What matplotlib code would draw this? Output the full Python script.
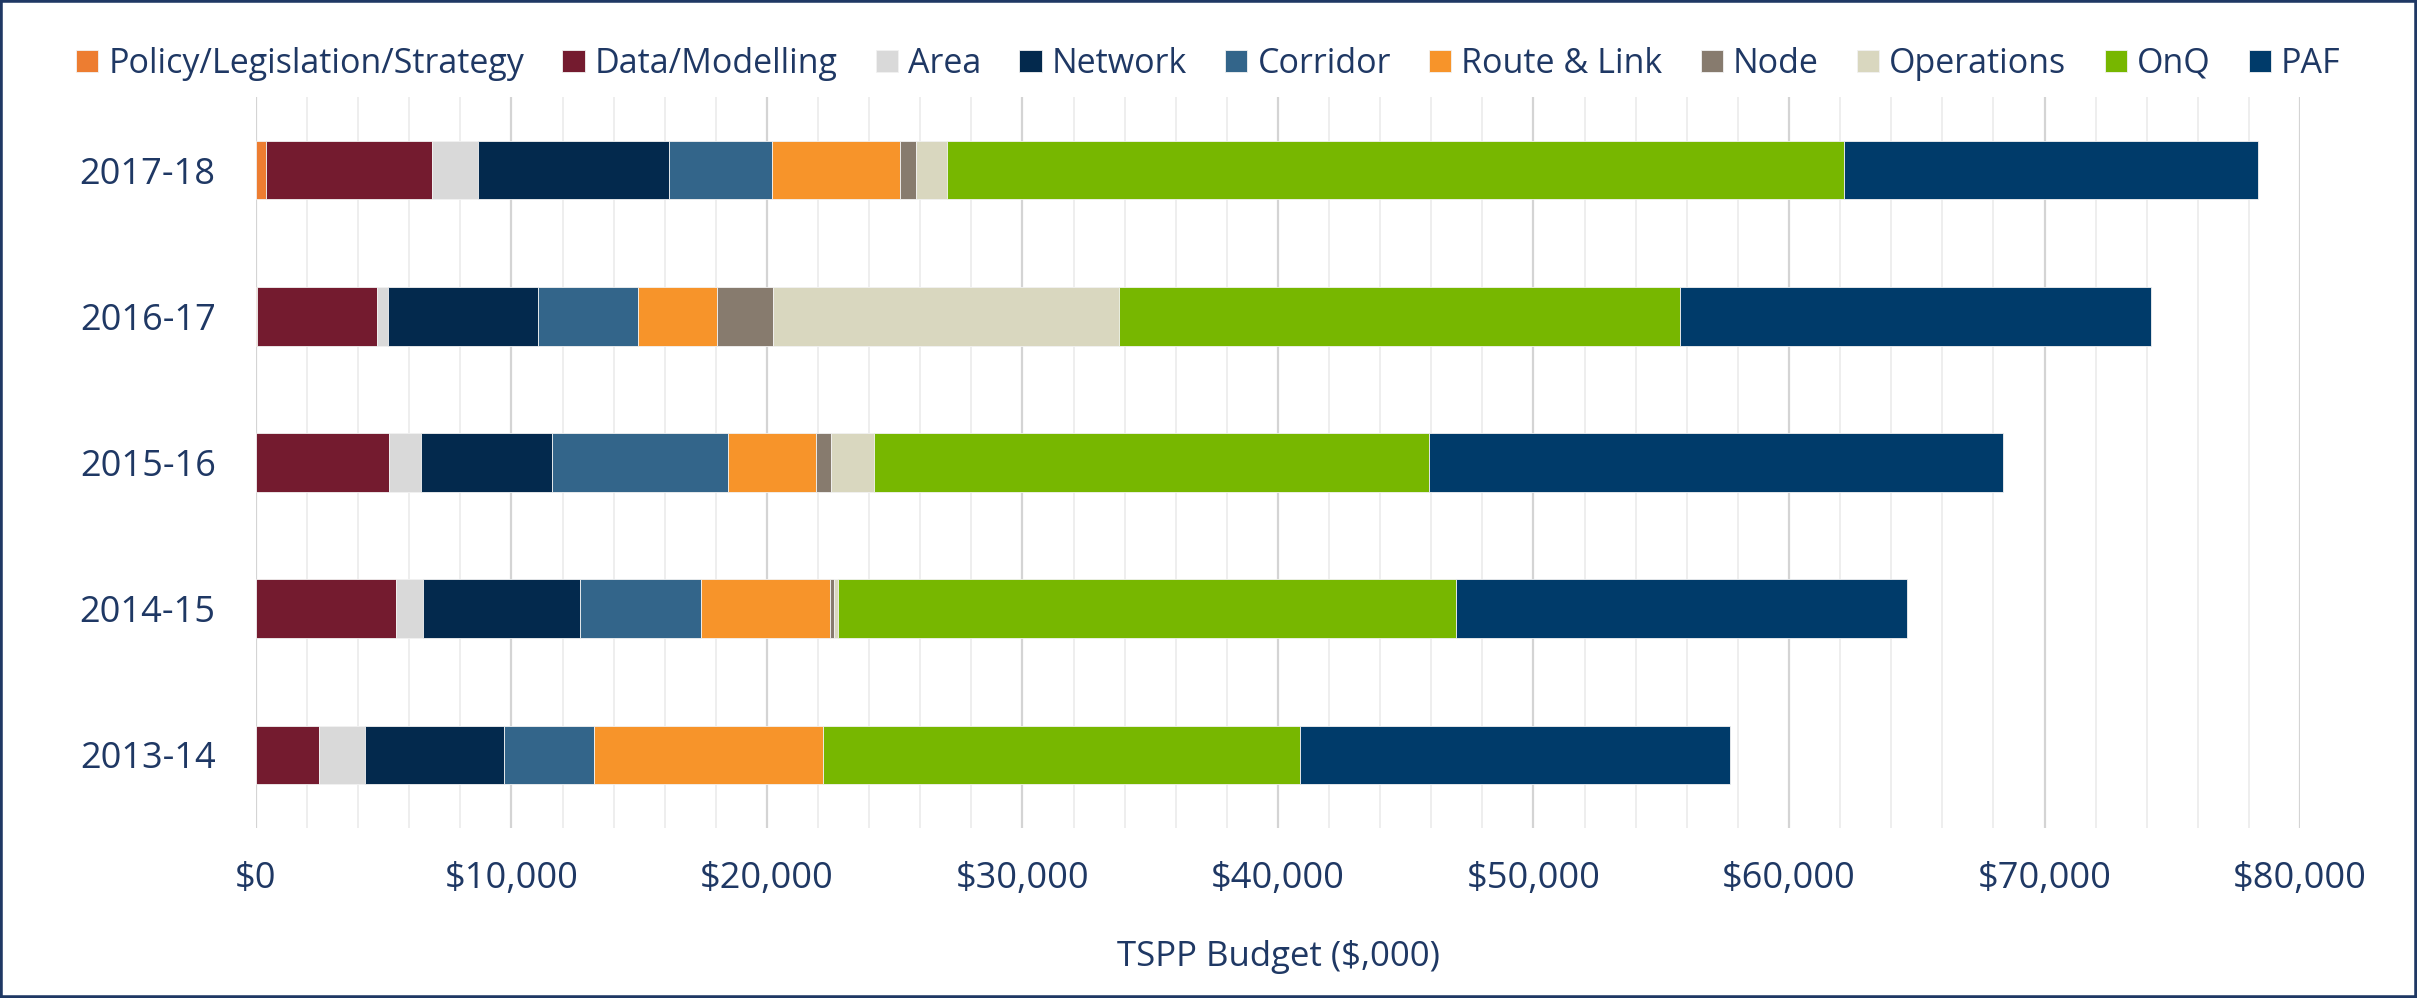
import matplotlib.pyplot as plt
from matplotlib.patches import Rectangle
from matplotlib.ticker import MultipleLocator, FuncFormatter
import numpy as np

# Data ($,000) -------------------------------------------------------
years = ['2013-14', '2014-15', '2015-16', '2016-17', '2017-18']

policy     = [0,     0,     0,     50,    400]
data_mod   = [2450,  5470,  5190,  4680,  6500]
area       = [1810,  1070,  1270,  430,   1800]
network    = [5440,  6150,  5130,  5880,  7450]
corridor   = [3540,  4730,  6900,  3910,  4050]
route_link = [8960,  5030,  3430,  3100,  5000]
node       = [0,     160,   580,   2170,  650]
operations = [0,     170,   1700,  13560, 1200]
onq        = [18650, 24200, 21720, 21970, 35100]
paf        = [16830, 17640, 22460, 18410, 16200]

categories = ['Policy/Legislation/Strategy', 'Data/Modelling', 'Area', 'Network',
              'Corridor', 'Route & Link', 'Node', 'Operations', 'OnQ', 'PAF']
series = [policy, data_mod, area, network, corridor, route_link, node,
          operations, onq, paf]
colors = ['#ED7D31', '#741B2F', '#D9D9D9', '#03294D', '#33658A', '#F7942A',
          '#877B6E', '#D9D7BF', '#77B700', '#003B6A']

text_col = '#1F3864'
plt.rcParams['font.family'] = ['Open Sans', 'DejaVu Sans']

fig = plt.figure(figsize=(24.17, 9.98), dpi=100)
ax = fig.add_axes([0.1059, 0.1703, 0.9516 - 0.1059, 0.9028 - 0.1703])

y = np.arange(len(years))
left = np.zeros(len(years))
handles = []
for name, vals, c in zip(categories, series, colors):
    vals = np.array(vals, dtype=float)
    b = ax.barh(y, vals, left=left, height=0.4, color=c, label=name,
                edgecolor='#F2F2F2', linewidth=0.6, zorder=3)
    handles.append(b)
    left += vals

ax.set_xlim(0, 80000)
ax.set_ylim(-0.5, 4.5)
ax.set_yticks(y)
ax.set_yticklabels(years)
ax.xaxis.set_major_locator(MultipleLocator(10000))
ax.xaxis.set_minor_locator(MultipleLocator(2000))
ax.xaxis.set_major_formatter(FuncFormatter(lambda v, p: f'${v:,.0f}'))
ax.grid(which='major', axis='x', color='#D4D4D4', linewidth=1.6, zorder=0)
ax.grid(which='minor', axis='x', color='#EEEEEE', linewidth=1.4, zorder=0)
for s in ax.spines.values():
    s.set_visible(False)
ax.tick_params(axis='y', length=0, pad=29, labelsize=26, labelcolor=text_col)
ax.tick_params(axis='x', which='both', length=0, pad=24, labelsize=26,
               labelcolor=text_col)
ax.set_xlabel('TSPP Budget ($,000)', fontsize=25, color=text_col, labelpad=31)

fig.legend(handles=handles, labels=categories, loc='center',
           bbox_to_anchor=(0.5, 0.936), ncol=10, frameon=False, fontsize=24.5,
           handlelength=0.65, handleheight=0.65, handletextpad=0.3,
           columnspacing=1.12, labelcolor=text_col)

fig.add_artist(Rectangle((0, 0), 1, 1, transform=fig.transFigure, fill=False,
                         edgecolor=text_col, linewidth=4))

fig.savefig('out.png', dpi=100)
